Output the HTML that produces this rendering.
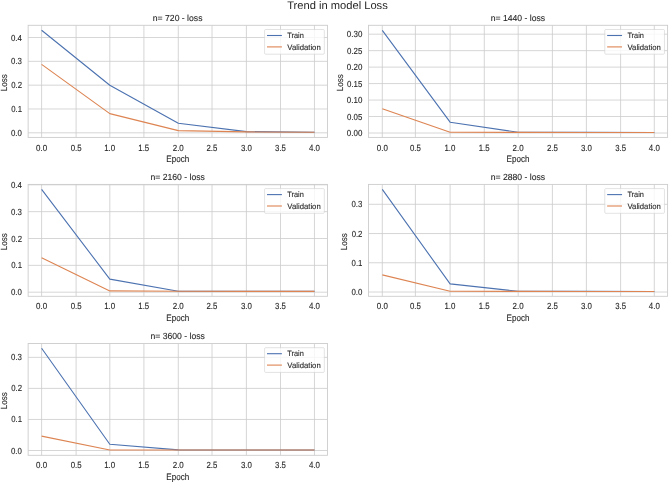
<!DOCTYPE html>
<html><head><meta charset="utf-8"><title>Trend in model Loss</title>
<style>
html,body{margin:0;padding:0;background:#fff;}
body{width:669px;height:483px;overflow:hidden;}
svg{display:block;font-family:"Liberation Sans",sans-serif;filter:blur(0.4px);}
</style></head><body>
<svg width="669" height="483" viewBox="0 0 669 483">
<rect width="669" height="483" fill="#fff"/>
<text text-rendering="geometricPrecision" x="287.16" y="9.00" font-size="11.00" textLength="100.63" lengthAdjust="spacingAndGlyphs" fill="#262626">Trend in model Loss</text>
<rect x="28.13" y="25.3" width="299.32" height="112.10" fill="#fff"/>
<line x1="41.60" y1="25.3" x2="41.60" y2="137.4" stroke="#cccccc" stroke-width="0.8"/>
<line x1="76.10" y1="25.3" x2="76.10" y2="137.4" stroke="#cccccc" stroke-width="0.8"/>
<line x1="109.80" y1="25.3" x2="109.80" y2="137.4" stroke="#cccccc" stroke-width="0.8"/>
<line x1="143.90" y1="25.3" x2="143.90" y2="137.4" stroke="#cccccc" stroke-width="0.8"/>
<line x1="178.30" y1="25.3" x2="178.30" y2="137.4" stroke="#cccccc" stroke-width="0.8"/>
<line x1="212.00" y1="25.3" x2="212.00" y2="137.4" stroke="#cccccc" stroke-width="0.8"/>
<line x1="246.40" y1="25.3" x2="246.40" y2="137.4" stroke="#cccccc" stroke-width="0.8"/>
<line x1="280.50" y1="25.3" x2="280.50" y2="137.4" stroke="#cccccc" stroke-width="0.8"/>
<line x1="314.45" y1="25.3" x2="314.45" y2="137.4" stroke="#cccccc" stroke-width="0.8"/>
<line x1="28.13" y1="132.80" x2="327.45" y2="132.80" stroke="#cccccc" stroke-width="0.8"/>
<line x1="28.13" y1="108.98" x2="327.45" y2="108.98" stroke="#cccccc" stroke-width="0.8"/>
<line x1="28.13" y1="85.16" x2="327.45" y2="85.16" stroke="#cccccc" stroke-width="0.8"/>
<line x1="28.13" y1="61.34" x2="327.45" y2="61.34" stroke="#cccccc" stroke-width="0.8"/>
<line x1="28.13" y1="37.52" x2="327.45" y2="37.52" stroke="#cccccc" stroke-width="0.8"/>
<polyline points="41.60,30.20 109.80,85.20 178.30,123.20 246.40,131.60 314.45,132.30" fill="none" stroke="#4c72b0" stroke-width="1.1" stroke-linejoin="round" stroke-linecap="butt"/>
<polyline points="41.60,64.40 109.80,113.60 178.30,130.60 246.40,131.90 314.45,132.30" fill="none" stroke="#dd8452" stroke-width="1.1" stroke-linejoin="round" stroke-linecap="butt"/>
<rect x="28.13" y="25.3" width="299.32" height="112.10" fill="none" stroke="#cccccc" stroke-width="0.9"/>
<rect x="264.60" y="29.50" width="59.7" height="24.7" rx="1.0" fill="#fff" fill-opacity="0.8" stroke="#cccccc" stroke-opacity="0.8" stroke-width="0.7"/>
<line x1="267.00" y1="35.50" x2="281.90" y2="35.50" stroke="#4c72b0" stroke-width="1.1"/>
<line x1="267.00" y1="46.90" x2="281.90" y2="46.90" stroke="#dd8452" stroke-width="1.1"/>
<text text-rendering="geometricPrecision" x="287.24" y="38.15" font-size="7.93" textLength="16.56" lengthAdjust="spacingAndGlyphs" fill="#262626" stroke="#262626" stroke-width="0.1">Train</text>
<text text-rendering="geometricPrecision" x="287.37" y="49.75" font-size="7.93" textLength="33.37" lengthAdjust="spacingAndGlyphs" fill="#262626" stroke="#262626" stroke-width="0.1">Validation</text>
<text text-rendering="geometricPrecision" x="36.08" y="150.55" font-size="8.95" textLength="11.04" lengthAdjust="spacingAndGlyphs" fill="#262626" stroke="#262626" stroke-width="0.1">0.0</text>
<text text-rendering="geometricPrecision" x="70.66" y="150.55" font-size="8.95" textLength="10.90" lengthAdjust="spacingAndGlyphs" fill="#262626" stroke="#262626" stroke-width="0.1">0.5</text>
<text text-rendering="geometricPrecision" x="104.15" y="150.55" font-size="8.95" textLength="11.01" lengthAdjust="spacingAndGlyphs" fill="#262626" stroke="#262626" stroke-width="0.1">1.0</text>
<text text-rendering="geometricPrecision" x="138.33" y="150.55" font-size="8.95" textLength="10.88" lengthAdjust="spacingAndGlyphs" fill="#262626" stroke="#262626" stroke-width="0.1">1.5</text>
<text text-rendering="geometricPrecision" x="172.72" y="150.55" font-size="8.95" textLength="11.07" lengthAdjust="spacingAndGlyphs" fill="#262626" stroke="#262626" stroke-width="0.1">2.0</text>
<text text-rendering="geometricPrecision" x="206.50" y="150.55" font-size="8.95" textLength="10.94" lengthAdjust="spacingAndGlyphs" fill="#262626" stroke="#262626" stroke-width="0.1">2.5</text>
<text text-rendering="geometricPrecision" x="240.93" y="150.55" font-size="8.95" textLength="10.95" lengthAdjust="spacingAndGlyphs" fill="#262626" stroke="#262626" stroke-width="0.1">3.0</text>
<text text-rendering="geometricPrecision" x="275.11" y="150.55" font-size="8.95" textLength="10.81" lengthAdjust="spacingAndGlyphs" fill="#262626" stroke="#262626" stroke-width="0.1">3.5</text>
<text text-rendering="geometricPrecision" x="309.00" y="150.55" font-size="8.95" textLength="11.03" lengthAdjust="spacingAndGlyphs" fill="#262626" stroke="#262626" stroke-width="0.1">4.0</text>
<text text-rendering="geometricPrecision" x="10.96" y="135.82" font-size="8.71" textLength="10.98" lengthAdjust="spacingAndGlyphs" fill="#262626" stroke="#262626" stroke-width="0.1">0.0</text>
<text text-rendering="geometricPrecision" x="11.15" y="112.00" font-size="8.71" textLength="10.86" lengthAdjust="spacingAndGlyphs" fill="#262626" stroke="#262626" stroke-width="0.1">0.1</text>
<text text-rendering="geometricPrecision" x="11.21" y="88.18" font-size="8.71" textLength="10.82" lengthAdjust="spacingAndGlyphs" fill="#262626" stroke="#262626" stroke-width="0.1">0.2</text>
<text text-rendering="geometricPrecision" x="11.06" y="64.36" font-size="8.71" textLength="10.91" lengthAdjust="spacingAndGlyphs" fill="#262626" stroke="#262626" stroke-width="0.1">0.3</text>
<text text-rendering="geometricPrecision" x="10.89" y="40.54" font-size="8.71" textLength="10.97" lengthAdjust="spacingAndGlyphs" fill="#262626" stroke="#262626" stroke-width="0.1">0.4</text>
<text text-rendering="geometricPrecision" x="152.81" y="20.80" font-size="8.74" textLength="49.69" lengthAdjust="spacingAndGlyphs" fill="#262626" stroke="#262626" stroke-width="0.1">n= 720 - loss</text>
<text text-rendering="geometricPrecision" x="166.30" y="161.70" font-size="9.29" textLength="22.85" lengthAdjust="spacingAndGlyphs" fill="#262626" stroke="#262626" stroke-width="0.1">Epoch</text>
<text text-rendering="geometricPrecision" transform="translate(6.63,0) rotate(-90)" x="-91.19" y="0" font-size="8.90" textLength="17.11" lengthAdjust="spacingAndGlyphs" fill="#262626" stroke="#262626" stroke-width="0.1">Loss</text>
<rect x="368.55" y="25.3" width="299.05" height="112.10" fill="#fff"/>
<line x1="382.30" y1="25.3" x2="382.30" y2="137.4" stroke="#cccccc" stroke-width="0.8"/>
<line x1="415.40" y1="25.3" x2="415.40" y2="137.4" stroke="#cccccc" stroke-width="0.8"/>
<line x1="450.10" y1="25.3" x2="450.10" y2="137.4" stroke="#cccccc" stroke-width="0.8"/>
<line x1="484.30" y1="25.3" x2="484.30" y2="137.4" stroke="#cccccc" stroke-width="0.8"/>
<line x1="518.20" y1="25.3" x2="518.20" y2="137.4" stroke="#cccccc" stroke-width="0.8"/>
<line x1="552.40" y1="25.3" x2="552.40" y2="137.4" stroke="#cccccc" stroke-width="0.8"/>
<line x1="586.40" y1="25.3" x2="586.40" y2="137.4" stroke="#cccccc" stroke-width="0.8"/>
<line x1="620.60" y1="25.3" x2="620.60" y2="137.4" stroke="#cccccc" stroke-width="0.8"/>
<line x1="654.30" y1="25.3" x2="654.30" y2="137.4" stroke="#cccccc" stroke-width="0.8"/>
<line x1="368.55" y1="133.00" x2="667.6" y2="133.00" stroke="#cccccc" stroke-width="0.8"/>
<line x1="368.55" y1="116.53" x2="667.6" y2="116.53" stroke="#cccccc" stroke-width="0.8"/>
<line x1="368.55" y1="100.06" x2="667.6" y2="100.06" stroke="#cccccc" stroke-width="0.8"/>
<line x1="368.55" y1="83.59" x2="667.6" y2="83.59" stroke="#cccccc" stroke-width="0.8"/>
<line x1="368.55" y1="67.12" x2="667.6" y2="67.12" stroke="#cccccc" stroke-width="0.8"/>
<line x1="368.55" y1="50.65" x2="667.6" y2="50.65" stroke="#cccccc" stroke-width="0.8"/>
<line x1="368.55" y1="34.18" x2="667.6" y2="34.18" stroke="#cccccc" stroke-width="0.8"/>
<polyline points="382.30,30.40 450.10,122.20 518.20,132.30 586.40,132.40 654.30,132.50" fill="none" stroke="#4c72b0" stroke-width="1.1" stroke-linejoin="round" stroke-linecap="butt"/>
<polyline points="382.30,108.80 450.10,132.20 518.20,132.40 586.40,132.50 654.30,132.50" fill="none" stroke="#dd8452" stroke-width="1.1" stroke-linejoin="round" stroke-linecap="butt"/>
<rect x="368.55" y="25.3" width="299.05" height="112.10" fill="none" stroke="#cccccc" stroke-width="0.9"/>
<rect x="604.75" y="29.50" width="59.7" height="24.7" rx="1.0" fill="#fff" fill-opacity="0.8" stroke="#cccccc" stroke-opacity="0.8" stroke-width="0.7"/>
<line x1="607.15" y1="35.50" x2="622.05" y2="35.50" stroke="#4c72b0" stroke-width="1.1"/>
<line x1="607.15" y1="46.90" x2="622.05" y2="46.90" stroke="#dd8452" stroke-width="1.1"/>
<text text-rendering="geometricPrecision" x="627.39" y="38.15" font-size="7.93" textLength="16.56" lengthAdjust="spacingAndGlyphs" fill="#262626" stroke="#262626" stroke-width="0.1">Train</text>
<text text-rendering="geometricPrecision" x="627.52" y="49.75" font-size="7.93" textLength="33.37" lengthAdjust="spacingAndGlyphs" fill="#262626" stroke="#262626" stroke-width="0.1">Validation</text>
<text text-rendering="geometricPrecision" x="376.78" y="150.55" font-size="8.95" textLength="11.04" lengthAdjust="spacingAndGlyphs" fill="#262626" stroke="#262626" stroke-width="0.1">0.0</text>
<text text-rendering="geometricPrecision" x="409.96" y="150.55" font-size="8.95" textLength="10.90" lengthAdjust="spacingAndGlyphs" fill="#262626" stroke="#262626" stroke-width="0.1">0.5</text>
<text text-rendering="geometricPrecision" x="444.45" y="150.55" font-size="8.95" textLength="11.01" lengthAdjust="spacingAndGlyphs" fill="#262626" stroke="#262626" stroke-width="0.1">1.0</text>
<text text-rendering="geometricPrecision" x="478.73" y="150.55" font-size="8.95" textLength="10.88" lengthAdjust="spacingAndGlyphs" fill="#262626" stroke="#262626" stroke-width="0.1">1.5</text>
<text text-rendering="geometricPrecision" x="512.62" y="150.55" font-size="8.95" textLength="11.07" lengthAdjust="spacingAndGlyphs" fill="#262626" stroke="#262626" stroke-width="0.1">2.0</text>
<text text-rendering="geometricPrecision" x="546.90" y="150.55" font-size="8.95" textLength="10.94" lengthAdjust="spacingAndGlyphs" fill="#262626" stroke="#262626" stroke-width="0.1">2.5</text>
<text text-rendering="geometricPrecision" x="580.93" y="150.55" font-size="8.95" textLength="10.95" lengthAdjust="spacingAndGlyphs" fill="#262626" stroke="#262626" stroke-width="0.1">3.0</text>
<text text-rendering="geometricPrecision" x="615.21" y="150.55" font-size="8.95" textLength="10.81" lengthAdjust="spacingAndGlyphs" fill="#262626" stroke="#262626" stroke-width="0.1">3.5</text>
<text text-rendering="geometricPrecision" x="648.85" y="150.55" font-size="8.95" textLength="11.03" lengthAdjust="spacingAndGlyphs" fill="#262626" stroke="#262626" stroke-width="0.1">4.0</text>
<text text-rendering="geometricPrecision" x="346.86" y="136.02" font-size="8.71" textLength="15.50" lengthAdjust="spacingAndGlyphs" fill="#262626" stroke="#262626" stroke-width="0.1">0.00</text>
<text text-rendering="geometricPrecision" x="347.01" y="119.55" font-size="8.71" textLength="15.37" lengthAdjust="spacingAndGlyphs" fill="#262626" stroke="#262626" stroke-width="0.1">0.05</text>
<text text-rendering="geometricPrecision" x="346.86" y="103.08" font-size="8.71" textLength="15.50" lengthAdjust="spacingAndGlyphs" fill="#262626" stroke="#262626" stroke-width="0.1">0.10</text>
<text text-rendering="geometricPrecision" x="347.01" y="86.61" font-size="8.71" textLength="15.37" lengthAdjust="spacingAndGlyphs" fill="#262626" stroke="#262626" stroke-width="0.1">0.15</text>
<text text-rendering="geometricPrecision" x="346.86" y="70.14" font-size="8.71" textLength="15.50" lengthAdjust="spacingAndGlyphs" fill="#262626" stroke="#262626" stroke-width="0.1">0.20</text>
<text text-rendering="geometricPrecision" x="347.01" y="53.67" font-size="8.71" textLength="15.37" lengthAdjust="spacingAndGlyphs" fill="#262626" stroke="#262626" stroke-width="0.1">0.25</text>
<text text-rendering="geometricPrecision" x="346.86" y="37.20" font-size="8.71" textLength="15.50" lengthAdjust="spacingAndGlyphs" fill="#262626" stroke="#262626" stroke-width="0.1">0.30</text>
<text text-rendering="geometricPrecision" x="490.70" y="20.80" font-size="8.74" textLength="54.48" lengthAdjust="spacingAndGlyphs" fill="#262626" stroke="#262626" stroke-width="0.1">n= 1440 - loss</text>
<text text-rendering="geometricPrecision" x="506.58" y="161.70" font-size="9.29" textLength="22.85" lengthAdjust="spacingAndGlyphs" fill="#262626" stroke="#262626" stroke-width="0.1">Epoch</text>
<text text-rendering="geometricPrecision" transform="translate(342.70,0) rotate(-90)" x="-91.19" y="0" font-size="8.90" textLength="17.11" lengthAdjust="spacingAndGlyphs" fill="#262626" stroke="#262626" stroke-width="0.1">Loss</text>
<rect x="28.13" y="184.4" width="299.32" height="111.90" fill="#fff"/>
<line x1="41.60" y1="184.4" x2="41.60" y2="296.3" stroke="#cccccc" stroke-width="0.8"/>
<line x1="76.10" y1="184.4" x2="76.10" y2="296.3" stroke="#cccccc" stroke-width="0.8"/>
<line x1="109.80" y1="184.4" x2="109.80" y2="296.3" stroke="#cccccc" stroke-width="0.8"/>
<line x1="143.90" y1="184.4" x2="143.90" y2="296.3" stroke="#cccccc" stroke-width="0.8"/>
<line x1="178.30" y1="184.4" x2="178.30" y2="296.3" stroke="#cccccc" stroke-width="0.8"/>
<line x1="212.00" y1="184.4" x2="212.00" y2="296.3" stroke="#cccccc" stroke-width="0.8"/>
<line x1="246.40" y1="184.4" x2="246.40" y2="296.3" stroke="#cccccc" stroke-width="0.8"/>
<line x1="280.50" y1="184.4" x2="280.50" y2="296.3" stroke="#cccccc" stroke-width="0.8"/>
<line x1="314.45" y1="184.4" x2="314.45" y2="296.3" stroke="#cccccc" stroke-width="0.8"/>
<line x1="28.13" y1="292.20" x2="327.45" y2="292.20" stroke="#cccccc" stroke-width="0.8"/>
<line x1="28.13" y1="265.35" x2="327.45" y2="265.35" stroke="#cccccc" stroke-width="0.8"/>
<line x1="28.13" y1="238.50" x2="327.45" y2="238.50" stroke="#cccccc" stroke-width="0.8"/>
<line x1="28.13" y1="211.65" x2="327.45" y2="211.65" stroke="#cccccc" stroke-width="0.8"/>
<line x1="28.13" y1="184.80" x2="327.45" y2="184.80" stroke="#cccccc" stroke-width="0.8"/>
<polyline points="41.60,189.40 109.80,279.10 178.30,291.20 246.40,291.30 314.45,291.40" fill="none" stroke="#4c72b0" stroke-width="1.1" stroke-linejoin="round" stroke-linecap="butt"/>
<polyline points="41.60,257.80 109.80,290.90 178.30,291.30 246.40,291.40 314.45,291.40" fill="none" stroke="#dd8452" stroke-width="1.1" stroke-linejoin="round" stroke-linecap="butt"/>
<rect x="28.13" y="184.4" width="299.32" height="111.90" fill="none" stroke="#cccccc" stroke-width="0.9"/>
<rect x="264.60" y="188.60" width="59.7" height="24.7" rx="1.0" fill="#fff" fill-opacity="0.8" stroke="#cccccc" stroke-opacity="0.8" stroke-width="0.7"/>
<line x1="267.00" y1="194.60" x2="281.90" y2="194.60" stroke="#4c72b0" stroke-width="1.1"/>
<line x1="267.00" y1="206.00" x2="281.90" y2="206.00" stroke="#dd8452" stroke-width="1.1"/>
<text text-rendering="geometricPrecision" x="287.24" y="197.25" font-size="7.93" textLength="16.56" lengthAdjust="spacingAndGlyphs" fill="#262626" stroke="#262626" stroke-width="0.1">Train</text>
<text text-rendering="geometricPrecision" x="287.37" y="208.85" font-size="7.93" textLength="33.37" lengthAdjust="spacingAndGlyphs" fill="#262626" stroke="#262626" stroke-width="0.1">Validation</text>
<text text-rendering="geometricPrecision" x="36.08" y="309.45" font-size="8.95" textLength="11.04" lengthAdjust="spacingAndGlyphs" fill="#262626" stroke="#262626" stroke-width="0.1">0.0</text>
<text text-rendering="geometricPrecision" x="70.66" y="309.45" font-size="8.95" textLength="10.90" lengthAdjust="spacingAndGlyphs" fill="#262626" stroke="#262626" stroke-width="0.1">0.5</text>
<text text-rendering="geometricPrecision" x="104.15" y="309.45" font-size="8.95" textLength="11.01" lengthAdjust="spacingAndGlyphs" fill="#262626" stroke="#262626" stroke-width="0.1">1.0</text>
<text text-rendering="geometricPrecision" x="138.33" y="309.45" font-size="8.95" textLength="10.88" lengthAdjust="spacingAndGlyphs" fill="#262626" stroke="#262626" stroke-width="0.1">1.5</text>
<text text-rendering="geometricPrecision" x="172.72" y="309.45" font-size="8.95" textLength="11.07" lengthAdjust="spacingAndGlyphs" fill="#262626" stroke="#262626" stroke-width="0.1">2.0</text>
<text text-rendering="geometricPrecision" x="206.50" y="309.45" font-size="8.95" textLength="10.94" lengthAdjust="spacingAndGlyphs" fill="#262626" stroke="#262626" stroke-width="0.1">2.5</text>
<text text-rendering="geometricPrecision" x="240.93" y="309.45" font-size="8.95" textLength="10.95" lengthAdjust="spacingAndGlyphs" fill="#262626" stroke="#262626" stroke-width="0.1">3.0</text>
<text text-rendering="geometricPrecision" x="275.11" y="309.45" font-size="8.95" textLength="10.81" lengthAdjust="spacingAndGlyphs" fill="#262626" stroke="#262626" stroke-width="0.1">3.5</text>
<text text-rendering="geometricPrecision" x="309.00" y="309.45" font-size="8.95" textLength="11.03" lengthAdjust="spacingAndGlyphs" fill="#262626" stroke="#262626" stroke-width="0.1">4.0</text>
<text text-rendering="geometricPrecision" x="10.96" y="295.22" font-size="8.71" textLength="10.98" lengthAdjust="spacingAndGlyphs" fill="#262626" stroke="#262626" stroke-width="0.1">0.0</text>
<text text-rendering="geometricPrecision" x="11.15" y="268.37" font-size="8.71" textLength="10.86" lengthAdjust="spacingAndGlyphs" fill="#262626" stroke="#262626" stroke-width="0.1">0.1</text>
<text text-rendering="geometricPrecision" x="11.21" y="241.52" font-size="8.71" textLength="10.82" lengthAdjust="spacingAndGlyphs" fill="#262626" stroke="#262626" stroke-width="0.1">0.2</text>
<text text-rendering="geometricPrecision" x="11.06" y="214.67" font-size="8.71" textLength="10.91" lengthAdjust="spacingAndGlyphs" fill="#262626" stroke="#262626" stroke-width="0.1">0.3</text>
<text text-rendering="geometricPrecision" x="10.89" y="187.82" font-size="8.71" textLength="10.97" lengthAdjust="spacingAndGlyphs" fill="#262626" stroke="#262626" stroke-width="0.1">0.4</text>
<text text-rendering="geometricPrecision" x="150.42" y="179.90" font-size="8.74" textLength="54.48" lengthAdjust="spacingAndGlyphs" fill="#262626" stroke="#262626" stroke-width="0.1">n= 2160 - loss</text>
<text text-rendering="geometricPrecision" x="166.30" y="320.60" font-size="9.29" textLength="22.85" lengthAdjust="spacingAndGlyphs" fill="#262626" stroke="#262626" stroke-width="0.1">Epoch</text>
<text text-rendering="geometricPrecision" transform="translate(6.63,0) rotate(-90)" x="-250.19" y="0" font-size="8.90" textLength="17.11" lengthAdjust="spacingAndGlyphs" fill="#262626" stroke="#262626" stroke-width="0.1">Loss</text>
<rect x="368.55" y="184.4" width="299.05" height="111.90" fill="#fff"/>
<line x1="382.30" y1="184.4" x2="382.30" y2="296.3" stroke="#cccccc" stroke-width="0.8"/>
<line x1="415.40" y1="184.4" x2="415.40" y2="296.3" stroke="#cccccc" stroke-width="0.8"/>
<line x1="450.10" y1="184.4" x2="450.10" y2="296.3" stroke="#cccccc" stroke-width="0.8"/>
<line x1="484.30" y1="184.4" x2="484.30" y2="296.3" stroke="#cccccc" stroke-width="0.8"/>
<line x1="518.20" y1="184.4" x2="518.20" y2="296.3" stroke="#cccccc" stroke-width="0.8"/>
<line x1="552.40" y1="184.4" x2="552.40" y2="296.3" stroke="#cccccc" stroke-width="0.8"/>
<line x1="586.40" y1="184.4" x2="586.40" y2="296.3" stroke="#cccccc" stroke-width="0.8"/>
<line x1="620.60" y1="184.4" x2="620.60" y2="296.3" stroke="#cccccc" stroke-width="0.8"/>
<line x1="654.30" y1="184.4" x2="654.30" y2="296.3" stroke="#cccccc" stroke-width="0.8"/>
<line x1="368.55" y1="292.00" x2="667.6" y2="292.00" stroke="#cccccc" stroke-width="0.8"/>
<line x1="368.55" y1="262.77" x2="667.6" y2="262.77" stroke="#cccccc" stroke-width="0.8"/>
<line x1="368.55" y1="233.54" x2="667.6" y2="233.54" stroke="#cccccc" stroke-width="0.8"/>
<line x1="368.55" y1="204.31" x2="667.6" y2="204.31" stroke="#cccccc" stroke-width="0.8"/>
<polyline points="382.30,189.40 450.10,283.90 518.20,291.30 586.40,291.40 654.30,291.50" fill="none" stroke="#4c72b0" stroke-width="1.1" stroke-linejoin="round" stroke-linecap="butt"/>
<polyline points="382.30,274.90 450.10,291.20 518.20,291.40 586.40,291.50 654.30,291.50" fill="none" stroke="#dd8452" stroke-width="1.1" stroke-linejoin="round" stroke-linecap="butt"/>
<rect x="368.55" y="184.4" width="299.05" height="111.90" fill="none" stroke="#cccccc" stroke-width="0.9"/>
<rect x="604.75" y="188.60" width="59.7" height="24.7" rx="1.0" fill="#fff" fill-opacity="0.8" stroke="#cccccc" stroke-opacity="0.8" stroke-width="0.7"/>
<line x1="607.15" y1="194.60" x2="622.05" y2="194.60" stroke="#4c72b0" stroke-width="1.1"/>
<line x1="607.15" y1="206.00" x2="622.05" y2="206.00" stroke="#dd8452" stroke-width="1.1"/>
<text text-rendering="geometricPrecision" x="627.39" y="197.25" font-size="7.93" textLength="16.56" lengthAdjust="spacingAndGlyphs" fill="#262626" stroke="#262626" stroke-width="0.1">Train</text>
<text text-rendering="geometricPrecision" x="627.52" y="208.85" font-size="7.93" textLength="33.37" lengthAdjust="spacingAndGlyphs" fill="#262626" stroke="#262626" stroke-width="0.1">Validation</text>
<text text-rendering="geometricPrecision" x="376.78" y="309.45" font-size="8.95" textLength="11.04" lengthAdjust="spacingAndGlyphs" fill="#262626" stroke="#262626" stroke-width="0.1">0.0</text>
<text text-rendering="geometricPrecision" x="409.96" y="309.45" font-size="8.95" textLength="10.90" lengthAdjust="spacingAndGlyphs" fill="#262626" stroke="#262626" stroke-width="0.1">0.5</text>
<text text-rendering="geometricPrecision" x="444.45" y="309.45" font-size="8.95" textLength="11.01" lengthAdjust="spacingAndGlyphs" fill="#262626" stroke="#262626" stroke-width="0.1">1.0</text>
<text text-rendering="geometricPrecision" x="478.73" y="309.45" font-size="8.95" textLength="10.88" lengthAdjust="spacingAndGlyphs" fill="#262626" stroke="#262626" stroke-width="0.1">1.5</text>
<text text-rendering="geometricPrecision" x="512.62" y="309.45" font-size="8.95" textLength="11.07" lengthAdjust="spacingAndGlyphs" fill="#262626" stroke="#262626" stroke-width="0.1">2.0</text>
<text text-rendering="geometricPrecision" x="546.90" y="309.45" font-size="8.95" textLength="10.94" lengthAdjust="spacingAndGlyphs" fill="#262626" stroke="#262626" stroke-width="0.1">2.5</text>
<text text-rendering="geometricPrecision" x="580.93" y="309.45" font-size="8.95" textLength="10.95" lengthAdjust="spacingAndGlyphs" fill="#262626" stroke="#262626" stroke-width="0.1">3.0</text>
<text text-rendering="geometricPrecision" x="615.21" y="309.45" font-size="8.95" textLength="10.81" lengthAdjust="spacingAndGlyphs" fill="#262626" stroke="#262626" stroke-width="0.1">3.5</text>
<text text-rendering="geometricPrecision" x="648.85" y="309.45" font-size="8.95" textLength="11.03" lengthAdjust="spacingAndGlyphs" fill="#262626" stroke="#262626" stroke-width="0.1">4.0</text>
<text text-rendering="geometricPrecision" x="351.38" y="295.02" font-size="8.71" textLength="10.98" lengthAdjust="spacingAndGlyphs" fill="#262626" stroke="#262626" stroke-width="0.1">0.0</text>
<text text-rendering="geometricPrecision" x="351.57" y="265.79" font-size="8.71" textLength="10.86" lengthAdjust="spacingAndGlyphs" fill="#262626" stroke="#262626" stroke-width="0.1">0.1</text>
<text text-rendering="geometricPrecision" x="351.63" y="236.56" font-size="8.71" textLength="10.82" lengthAdjust="spacingAndGlyphs" fill="#262626" stroke="#262626" stroke-width="0.1">0.2</text>
<text text-rendering="geometricPrecision" x="351.48" y="207.33" font-size="8.71" textLength="10.91" lengthAdjust="spacingAndGlyphs" fill="#262626" stroke="#262626" stroke-width="0.1">0.3</text>
<text text-rendering="geometricPrecision" x="490.70" y="179.90" font-size="8.74" textLength="54.48" lengthAdjust="spacingAndGlyphs" fill="#262626" stroke="#262626" stroke-width="0.1">n= 2880 - loss</text>
<text text-rendering="geometricPrecision" x="506.58" y="320.60" font-size="9.29" textLength="22.85" lengthAdjust="spacingAndGlyphs" fill="#262626" stroke="#262626" stroke-width="0.1">Epoch</text>
<text text-rendering="geometricPrecision" transform="translate(347.05,0) rotate(-90)" x="-250.19" y="0" font-size="8.90" textLength="17.11" lengthAdjust="spacingAndGlyphs" fill="#262626" stroke="#262626" stroke-width="0.1">Loss</text>
<rect x="28.13" y="343.5" width="299.32" height="111.80" fill="#fff"/>
<line x1="41.60" y1="343.5" x2="41.60" y2="455.3" stroke="#cccccc" stroke-width="0.8"/>
<line x1="76.10" y1="343.5" x2="76.10" y2="455.3" stroke="#cccccc" stroke-width="0.8"/>
<line x1="109.80" y1="343.5" x2="109.80" y2="455.3" stroke="#cccccc" stroke-width="0.8"/>
<line x1="143.90" y1="343.5" x2="143.90" y2="455.3" stroke="#cccccc" stroke-width="0.8"/>
<line x1="178.30" y1="343.5" x2="178.30" y2="455.3" stroke="#cccccc" stroke-width="0.8"/>
<line x1="212.00" y1="343.5" x2="212.00" y2="455.3" stroke="#cccccc" stroke-width="0.8"/>
<line x1="246.40" y1="343.5" x2="246.40" y2="455.3" stroke="#cccccc" stroke-width="0.8"/>
<line x1="280.50" y1="343.5" x2="280.50" y2="455.3" stroke="#cccccc" stroke-width="0.8"/>
<line x1="314.45" y1="343.5" x2="314.45" y2="455.3" stroke="#cccccc" stroke-width="0.8"/>
<line x1="28.13" y1="450.50" x2="327.45" y2="450.50" stroke="#cccccc" stroke-width="0.8"/>
<line x1="28.13" y1="419.45" x2="327.45" y2="419.45" stroke="#cccccc" stroke-width="0.8"/>
<line x1="28.13" y1="388.40" x2="327.45" y2="388.40" stroke="#cccccc" stroke-width="0.8"/>
<line x1="28.13" y1="357.35" x2="327.45" y2="357.35" stroke="#cccccc" stroke-width="0.8"/>
<polyline points="41.60,348.20 109.80,444.30 178.30,449.90 246.40,450.00 314.45,450.00" fill="none" stroke="#4c72b0" stroke-width="1.1" stroke-linejoin="round" stroke-linecap="butt"/>
<polyline points="41.60,436.10 109.80,450.00 178.30,450.00 246.40,450.00 314.45,450.00" fill="none" stroke="#dd8452" stroke-width="1.1" stroke-linejoin="round" stroke-linecap="butt"/>
<rect x="28.13" y="343.5" width="299.32" height="111.80" fill="none" stroke="#cccccc" stroke-width="0.9"/>
<rect x="264.60" y="347.70" width="59.7" height="24.7" rx="1.0" fill="#fff" fill-opacity="0.8" stroke="#cccccc" stroke-opacity="0.8" stroke-width="0.7"/>
<line x1="267.00" y1="353.70" x2="281.90" y2="353.70" stroke="#4c72b0" stroke-width="1.1"/>
<line x1="267.00" y1="365.10" x2="281.90" y2="365.10" stroke="#dd8452" stroke-width="1.1"/>
<text text-rendering="geometricPrecision" x="287.24" y="356.35" font-size="7.93" textLength="16.56" lengthAdjust="spacingAndGlyphs" fill="#262626" stroke="#262626" stroke-width="0.1">Train</text>
<text text-rendering="geometricPrecision" x="287.37" y="367.95" font-size="7.93" textLength="33.37" lengthAdjust="spacingAndGlyphs" fill="#262626" stroke="#262626" stroke-width="0.1">Validation</text>
<text text-rendering="geometricPrecision" x="36.08" y="468.45" font-size="8.95" textLength="11.04" lengthAdjust="spacingAndGlyphs" fill="#262626" stroke="#262626" stroke-width="0.1">0.0</text>
<text text-rendering="geometricPrecision" x="70.66" y="468.45" font-size="8.95" textLength="10.90" lengthAdjust="spacingAndGlyphs" fill="#262626" stroke="#262626" stroke-width="0.1">0.5</text>
<text text-rendering="geometricPrecision" x="104.15" y="468.45" font-size="8.95" textLength="11.01" lengthAdjust="spacingAndGlyphs" fill="#262626" stroke="#262626" stroke-width="0.1">1.0</text>
<text text-rendering="geometricPrecision" x="138.33" y="468.45" font-size="8.95" textLength="10.88" lengthAdjust="spacingAndGlyphs" fill="#262626" stroke="#262626" stroke-width="0.1">1.5</text>
<text text-rendering="geometricPrecision" x="172.72" y="468.45" font-size="8.95" textLength="11.07" lengthAdjust="spacingAndGlyphs" fill="#262626" stroke="#262626" stroke-width="0.1">2.0</text>
<text text-rendering="geometricPrecision" x="206.50" y="468.45" font-size="8.95" textLength="10.94" lengthAdjust="spacingAndGlyphs" fill="#262626" stroke="#262626" stroke-width="0.1">2.5</text>
<text text-rendering="geometricPrecision" x="240.93" y="468.45" font-size="8.95" textLength="10.95" lengthAdjust="spacingAndGlyphs" fill="#262626" stroke="#262626" stroke-width="0.1">3.0</text>
<text text-rendering="geometricPrecision" x="275.11" y="468.45" font-size="8.95" textLength="10.81" lengthAdjust="spacingAndGlyphs" fill="#262626" stroke="#262626" stroke-width="0.1">3.5</text>
<text text-rendering="geometricPrecision" x="309.00" y="468.45" font-size="8.95" textLength="11.03" lengthAdjust="spacingAndGlyphs" fill="#262626" stroke="#262626" stroke-width="0.1">4.0</text>
<text text-rendering="geometricPrecision" x="10.96" y="453.52" font-size="8.71" textLength="10.98" lengthAdjust="spacingAndGlyphs" fill="#262626" stroke="#262626" stroke-width="0.1">0.0</text>
<text text-rendering="geometricPrecision" x="11.15" y="422.47" font-size="8.71" textLength="10.86" lengthAdjust="spacingAndGlyphs" fill="#262626" stroke="#262626" stroke-width="0.1">0.1</text>
<text text-rendering="geometricPrecision" x="11.21" y="391.42" font-size="8.71" textLength="10.82" lengthAdjust="spacingAndGlyphs" fill="#262626" stroke="#262626" stroke-width="0.1">0.2</text>
<text text-rendering="geometricPrecision" x="11.06" y="360.37" font-size="8.71" textLength="10.91" lengthAdjust="spacingAndGlyphs" fill="#262626" stroke="#262626" stroke-width="0.1">0.3</text>
<text text-rendering="geometricPrecision" x="150.42" y="339.00" font-size="8.74" textLength="54.48" lengthAdjust="spacingAndGlyphs" fill="#262626" stroke="#262626" stroke-width="0.1">n= 3600 - loss</text>
<text text-rendering="geometricPrecision" x="166.30" y="479.60" font-size="9.29" textLength="22.85" lengthAdjust="spacingAndGlyphs" fill="#262626" stroke="#262626" stroke-width="0.1">Epoch</text>
<text text-rendering="geometricPrecision" transform="translate(6.63,0) rotate(-90)" x="-409.24" y="0" font-size="8.90" textLength="17.11" lengthAdjust="spacingAndGlyphs" fill="#262626" stroke="#262626" stroke-width="0.1">Loss</text>
</svg>
</body></html>
